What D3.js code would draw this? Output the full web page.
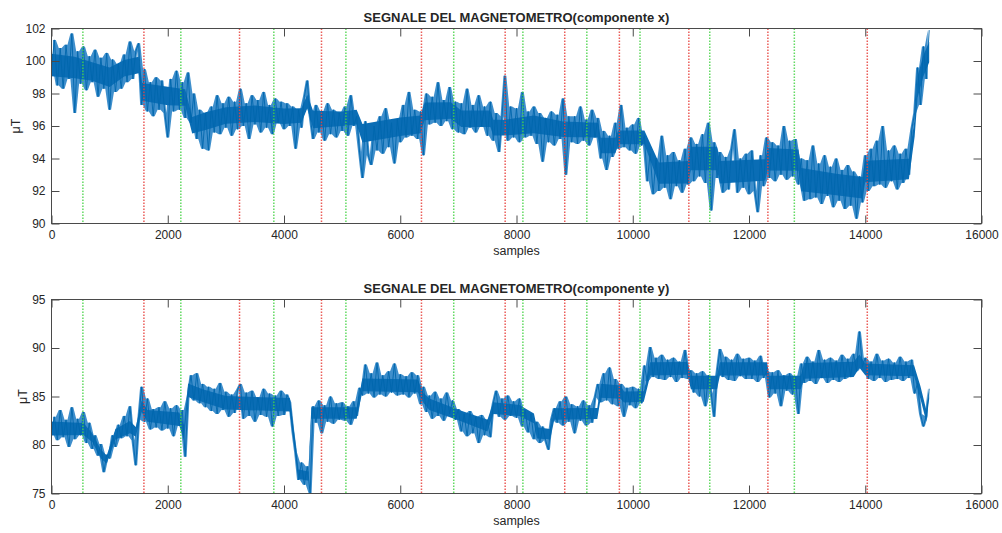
<!DOCTYPE html>
<html><head><meta charset="utf-8">
<script src="https://cdn.jsdelivr.net/npm/d3@7/dist/d3.min.js"></script>
<style>
body{margin:0;background:#fff}
svg{display:block}
text{font-family:"Liberation Sans",Arial,Helvetica,sans-serif;fill:#262626}
</style></head><body>
<script>
// signal values, one every 50 samples
const sampleStep = 50;

const compX = [
 99.5,101.3,98.5,100.8,98.3,101.0,98.9,101.7,96.8,100.6,98.6,100.9,98.2,100.3,98.7,100.7,97.8,100.2,98.3,100.5,
 97.0,100.1,98.1,99.8,98.3,100.4,98.7,101.2,98.9,100.6,101.1,97.3,99.5,96.9,98.7,96.6,99.0,97.0,98.8,96.8,
 95.3,98.9,96.9,99.4,97.0,98.7,96.5,99.3,96.2,98.0,95.2,97.0,94.6,96.8,94.5,97.2,95.6,97.9,95.5,97.4,
 95.9,97.8,95.4,97.5,95.8,98.3,96.0,97.4,95.2,97.9,96.1,97.6,95.6,98.1,95.9,97.3,95.5,97.7,96.2,97.5,
 95.8,97.4,96.0,97.2,94.6,97.0,95.9,97.8,98.8,96.6,95.2,97.3,95.6,96.9,95.1,97.4,95.5,97.0,95.3,96.8,
 95.7,97.2,95.4,97.9,96.0,96.6,94.4,92.8,96.3,94.2,93.6,96.0,94.5,96.6,94.3,97.1,94.7,96.2,93.7,96.4,
 95.0,97.3,95.3,98.1,95.4,97.0,95.2,96.9,94.2,98.0,96.1,97.8,96.2,98.7,96.0,97.6,96.3,98.4,95.8,97.5,
 95.6,97.4,95.5,98.3,95.9,97.3,95.6,97.9,96.0,97.2,95.4,97.5,95.1,96.8,94.4,96.6,99.1,95.1,97.2,95.3,
 97.1,95.0,98.1,95.3,96.9,95.4,97.2,94.9,96.8,93.8,96.5,95.0,96.9,94.8,96.7,95.2,97.7,93.0,96.6,95.0,
 96.6,94.9,97.2,95.1,96.4,94.8,97.0,95.3,96.5,94.0,95.7,93.3,95.4,94.1,96.2,94.6,97.3,94.7,95.9,94.5,
 96.1,94.3,96.5,94.8,95.4,92.6,94.3,91.8,94.0,92.0,95.4,92.2,94.2,91.5,94.4,92.3,93.9,91.9,94.6,92.4,
 95.3,92.6,94.9,92.9,95.5,92.5,96.2,90.8,95.0,92.8,94.4,91.9,94.1,92.1,94.6,95.8,91.9,94.0,92.2,94.3,
 91.8,94.5,92.0,90.7,94.2,92.3,95.3,92.8,95.0,92.6,94.8,93.0,96.0,92.7,95.1,92.9,95.2,92.4,94.0,91.4,
 93.9,91.5,94.8,91.6,93.7,91.2,94.2,91.7,93.5,91.0,94.0,91.4,93.3,90.9,93.6,91.1,93.2,90.3,92.9,91.3,
 94.2,92.0,94.6,92.3,95.1,92.4,96.0,92.2,94.5,92.6,94.8,92.1,94.3,92.5,94.6,93.0,95.8,96.8,99.6,97.3,
 100.9,98.9,101.9
];

const compY = [
 81.2,82.9,80.5,83.6,80.8,82.6,79.8,83.9,80.6,82.7,81.0,83.4,80.2,82.3,79.6,81.0,78.9,80.1,77.2,79.0,
 78.6,81.0,79.8,82.1,80.7,83.0,80.9,84.0,80.5,77.9,82.6,86.0,82.4,84.8,81.6,83.7,81.8,83.9,81.5,84.5,
 81.7,83.8,80.9,84.1,82.0,83.6,78.8,85.0,87.2,84.6,87.4,84.3,86.3,83.9,86.0,83.5,85.8,83.2,86.4,83.6,
 85.5,82.9,85.2,83.3,85.7,86.3,82.7,85.4,83.0,85.6,82.4,84.9,83.1,85.8,82.9,85.3,81.9,85.1,83.0,85.6,
 83.1,85.2,84.4,81.5,79.2,76.4,78.2,75.9,77.8,75.0,84.0,82.3,84.6,81.2,84.1,82.4,85.0,82.2,84.3,82.6,
 84.4,82.5,84.0,82.1,84.5,83.0,85.9,85.1,88.3,85.3,87.4,84.9,88.5,85.2,87.2,85.0,87.6,85.4,88.4,85.1,
 87.3,85.2,87.1,84.9,87.5,85.3,87.2,84.2,86.0,83.4,85.1,82.7,85.5,83.0,84.8,82.5,85.4,83.2,84.6,82.6,
 83.7,81.4,83.2,80.9,83.5,81.2,82.9,80.2,83.1,81.0,82.6,80.8,84.3,85.6,82.9,84.8,82.6,85.1,83.0,84.5,
 82.8,84.8,81.9,83.6,81.3,83.2,80.6,82.4,80.2,81.9,80.5,79.5,82.6,83.8,82.3,84.5,82.0,85.0,82.4,84.2,
 81.2,84.0,82.5,84.6,82.0,84.1,82.3,84.9,86.3,84.4,87.4,84.6,88.0,84.2,86.8,84.0,86.3,82.9,85.9,84.1,
 86.0,83.8,85.8,84.3,88.2,86.6,90.1,87.0,89.0,86.8,89.3,86.7,88.8,87.0,89.0,86.5,88.6,86.9,89.8,86.8,
 87.7,85.4,87.4,85.0,87.6,84.0,87.2,85.3,82.9,87.5,89.9,87.0,89.1,86.7,88.8,86.6,89.4,87.1,88.9,86.8,
 89.0,86.8,88.7,86.5,89.2,86.9,87.6,84.9,87.5,85.3,87.7,84.0,87.2,85.6,87.4,85.2,87.0,83.2,88.4,86.4,
 89.1,86.6,88.6,86.3,89.8,86.9,88.8,86.4,89.0,86.7,88.7,86.5,89.3,86.8,88.9,87.0,89.4,87.6,91.7,88.0,
 89.0,86.8,88.6,86.6,89.4,86.9,88.7,86.5,88.9,86.7,88.5,86.8,89.1,86.6,88.6,86.9,88.8,85.3,86.4,83.2,
 81.9,83.0,85.8
];

// dense core of the noise band (sample, low, high)
const coreXSamples = [0,400,700,1000,1250,1500,1560,2000,2300,2420,2650,3000,3500,4000,4300,4400,4500,5000,5250,5350,6000,6350,6420,6870,7050,7550,7600,7800,8300,8800,9400,9450,9700,9750,10200,10450,10950,11000,11450,11500,12280,12320,12850,12900,13500,13950,14000,14750,14850,14900,15000,15100];
const coreXLow     = [98.6,98.5,98.4,98.0,98.7,98.9,97.2,96.9,96.9,95.2,95.4,95.8,95.9,95.8,95.9,96.8,95.5,95.7,95.8,94.6,95.0,95.2,96.0,96.1,95.6,95.6,95.1,95.1,95.2,95.0,95.0,94.0,94.0,94.6,94.6,92.0,92.0,92.8,92.8,92.0,92.2,92.8,92.8,91.5,91.3,91.1,92.1,92.3,95.0,97.3,98.6,99.5];
const coreXHigh    = [100.9,100.7,100.3,100.0,100.4,100.6,99.0,98.8,98.6,96.9,97.2,97.5,97.6,97.4,97.4,98.2,97.3,97.2,97.3,96.5,96.9,97.0,97.8,97.8,97.3,97.3,96.7,96.7,97.0,96.6,96.5,95.6,95.6,96.0,96.0,94.2,94.3,95.2,95.2,94.3,94.4,95.1,95.0,93.9,93.5,93.3,94.3,94.4,96.8,99.5,100.8,101.6];

const coreYSamples = [0,550,700,850,950,1100,1350,1450,1550,1650,2200,2280,2350,2600,3000,4100,4200,4250,4420,4470,5250,5350,6300,6400,6500,7000,7500,7600,8050,8300,8350,8580,8650,9390,9450,9790,9850,10190,10300,10940,11000,11450,11500,12310,12350,12890,12950,13800,13900,14000,14840,14950,15050,15100];
const coreYLow     = [80.5,80.6,80.0,78.3,77.8,80.2,80.8,80.5,83.0,82.0,81.5,80.0,84.5,84.0,83.2,83.0,78.5,76.2,76.0,82.3,82.3,85.1,85.0,84.0,83.2,82.2,81.0,82.8,82.6,81.9,80.3,80.2,82.2,82.3,84.4,84.3,84.0,84.1,86.7,86.8,85.3,85.3,86.7,86.7,85.3,85.3,86.3,86.5,87.5,86.8,86.7,84.3,82.0,84.5];
const coreYHigh    = [82.9,82.7,81.5,79.8,79.2,82.0,82.9,82.2,85.0,84.0,83.8,82.5,86.8,86.2,85.5,85.3,80.5,77.8,77.6,84.3,84.3,87.3,87.2,85.7,85.2,84.0,83.0,84.8,84.5,83.6,82.2,82.0,84.2,84.2,86.8,86.6,85.9,85.9,89.0,89.0,87.6,87.6,89.0,89.0,87.6,87.6,89.0,89.1,89.8,88.8,88.6,86.5,84.0,85.8];

const redMarkers   = [1590, 3235, 4645, 6365, 7805, 8830, 9770, 10965, 12325, 14035];
const greenMarkers = [540, 2225, 3825, 5065, 6920, 8110, 9210, 10125, 11325, 12780];

const xTicks  = [0, 2000, 4000, 6000, 8000, 10000, 12000, 14000, 16000];
const yTicksX = [90, 92, 94, 96, 98, 100, 102];
const yTicksY = [75, 80, 85, 90, 95];
const xDomain = [0, 16000];
const yDomainX = [90, 102];
const yDomainY = [75, 95];

const titleX = "SEGNALE DEL MAGNETOMETRO(componente x)";
const titleY = "SEGNALE DEL MAGNETOMETRO(componente y)";
const xLabel = "samples";
const yLabel = "\u03BCT";

const W = 1002, H = 533;
const coreInset = 0.2;
const svg = d3.select("body").append("svg").attr("width", W).attr("height", H);

function panel(id, values, coreS, coreLo, coreHi, yDomain, yTicks, title, top, bottom, yLabelX) {
  const left = 51.5, right = 981.5;
  const x = d3.scaleLinear().domain(xDomain).range([left, right]);
  const y = d3.scaleLinear().domain(yDomain).range([bottom, top]);
  const g = svg.append("g");

  g.append("clipPath").attr("id", "clip" + id)
    .append("rect").attr("x", left).attr("y", top).attr("width", right - left).attr("height", bottom - top);
  const clip = "url(#clip" + id + ")";

  // envelope of the signal: min/max of each pair of consecutive values
  const env = d3.pairs(values).map(([a, b], i) => ({s: (i + 0.5) * sampleStep, lo: Math.min(a, b), hi: Math.max(a, b)}));
  const envArea = d3.area().x(d => x(d.s)).y0(d => y(d.lo)).y1(d => y(d.hi));
  g.append("path").datum(env).attr("clip-path", clip)
    .attr("fill", "#3f8fcc").attr("d", envArea);

  const core = coreS.map((s, i) => ({s, lo: coreLo[i], hi: coreHi[i]}));
  const area = d3.area().x(d => x(d.s))
    .y0(d => y(d.lo + coreInset * (d.hi - d.lo)))
    .y1(d => y(d.hi - coreInset * (d.hi - d.lo)));
  g.append("path").datum(core).attr("clip-path", clip)
    .attr("fill", "#0a6db5").attr("d", area);

  const line = d3.line().x((d, i) => x(i * sampleStep)).y(d => y(d));
  g.append("path").datum(values).attr("clip-path", clip)
    .attr("fill", "none").attr("stroke", "#0066ad").attr("stroke-width", 0.9)
    .attr("stroke-linejoin", "miter").attr("d", line);

  const markers = [...redMarkers.map(v => ({v, c: "#e8413c"})), ...greenMarkers.map(v => ({v, c: "#47d447"}))];
  g.selectAll("line.mk").data(markers).enter().append("line")
    .attr("x1", d => x(d.v)).attr("x2", d => x(d.v))
    .attr("y1", top).attr("y2", bottom)
    .attr("stroke", d => d.c).attr("stroke-width", 1.5)
    .attr("stroke-dasharray", "1.5,1.5").attr("opacity", 0.85);

  const axColor = "#4a4a4a";
  const style = sel => {
    sel.selectAll(".domain").remove();
    sel.selectAll(".tick line").attr("stroke", axColor);
    sel.selectAll(".tick text").attr("fill", "#262626").style("font-size", "12px")
      .style("font-family", '"Liberation Sans",Arial,sans-serif');
  };
  g.append("g").attr("transform", `translate(0,${bottom})`)
    .call(d3.axisBottom(x).tickValues(xTicks).tickSize(-8).tickPadding(7).tickFormat(d3.format("d"))).call(style);
  g.append("g").attr("transform", `translate(0,${top})`)
    .call(d3.axisTop(x).tickValues(xTicks).tickSize(-8).tickFormat("")).call(style);
  g.append("g").attr("transform", `translate(${left},0)`)
    .call(d3.axisLeft(y).tickValues(yTicks).tickSize(-8).tickPadding(6).tickFormat(d3.format("d"))).call(style);
  g.append("g").attr("transform", `translate(${right},0)`)
    .call(d3.axisRight(y).tickValues(yTicks).tickSize(-8).tickFormat("")).call(style);

  g.append("rect").attr("x", left).attr("y", top).attr("width", right - left).attr("height", bottom - top)
    .attr("fill", "none").attr("stroke", axColor).attr("stroke-width", 1);

  g.append("text").attr("x", (left + right) / 2).attr("y", top - 6.5)
    .attr("text-anchor", "middle").style("font-weight", "bold").style("font-size", "13px").attr("fill", "#000")
    .text(title);
  g.append("text").attr("x", (left + right) / 2).attr("y", bottom + 31)
    .attr("text-anchor", "middle").style("font-size", "12.5px").text(xLabel);
  g.append("text").attr("transform", `translate(${yLabelX},${(top + bottom) / 2}) rotate(-90)`)
    .attr("text-anchor", "middle").style("font-size", "12.5px").text(yLabel);
}

panel("a", compX, coreXSamples, coreXLow, coreXHigh, yDomainX, yTicksX, titleX, 28.5, 223.5, 20);
panel("b", compY, coreYSamples, coreYLow, coreYHigh, yDomainY, yTicksY, titleY, 299.5, 493.5, 27);
</script>
</body></html>
